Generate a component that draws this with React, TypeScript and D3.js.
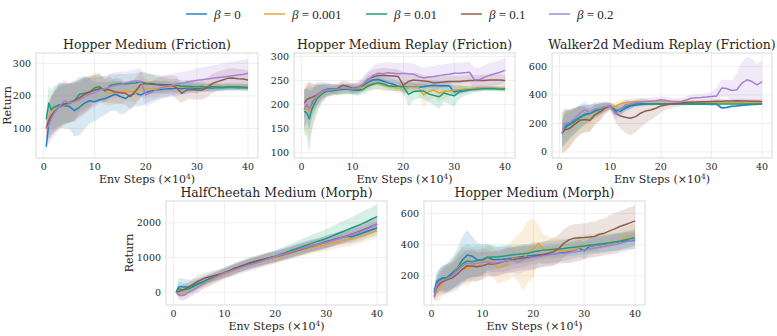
import * as d3 from "d3";

// env steps (x 10^4)
const steps = [0.5, 1, 1.5, 2, 3, 4, 5, 6, 7, 8, 9, 10, 11, 12, 13, 14, 15, 16, 17, 18, 19, 20, 21, 22, 23, 24, 25, 26, 27, 28, 29, 30, 31, 32, 33, 34, 35, 36, 37, 38, 39, 40];

const betaLabels = ["0", "0.001", "0.01", "0.1", "0.2"];
const seriesColors = ["#1f7fc0", "#e3a232", "#1a9e77", "#8f5b4e", "#a77fd8"];

const xTicks = [0, 10, 20, 30, 40];

// Hopper Medium (Friction)
const hopperFrictionMean = [
  [44, 115, 136, 150, 172, 170, 168, 155, 165, 178, 185, 182, 188, 192, 198, 205, 198, 192, 203, 208, 203, 210, 215, 218, 220, 222, 222, 224, 222, 224, 225, 222, 224, 225, 224, 226, 225, 226, 226, 225, 226, 225],
  [100, 130, 145, 155, 168, 172, 178, 180, 190, 200, 210, 228, 225, 212, 208, 210, 212, 214, 215, 208, 226, 222, 220, 222, 225, 226, 228, 227, 228, 228, 228, 227, 228, 229, 228, 229, 228, 229, 228, 229, 228, 228],
  [128, 178, 157, 165, 172, 175, 177, 185, 205, 208, 212, 225, 228, 215, 232, 236, 238, 237, 239, 240, 244, 238, 236, 235, 233, 234, 232, 232, 230, 230, 229, 228, 230, 226, 228, 228, 227, 228, 228, 228, 227, 226],
  [100, 125, 140, 150, 165, 175, 180, 185, 195, 205, 212, 218, 222, 220, 218, 212, 210, 208, 198, 215, 235, 238, 238, 236, 235, 234, 234, 225, 208, 218, 220, 218, 218, 226, 238, 244, 249, 254, 255, 253, 252, 249],
  [100, 108, 130, 145, 165, 185, 178, 182, 188, 198, 205, 210, 218, 222, 228, 232, 235, 240, 244, 246, 245, 203, 210, 218, 225, 229, 232, 236, 239, 242, 245, 248, 250, 252, 254, 256, 258, 260, 262, 264, 266, 270],
];
const hopperFrictionSpread = [
  [20, 50, 60, 65, 70, 70, 70, 80, 85, 80, 70, 60, 55, 50, 45, 50, 55, 45, 40, 40, 35, 35, 30, 30, 25, 25, 20, 20, 18, 18, 15, 15, 12, 12, 12, 10, 10, 10, 10, 10, 10, 10],
  [20, 50, 55, 60, 60, 60, 60, 60, 55, 55, 50, 45, 45, 40, 40, 35, 35, 30, 30, 30, 30, 30, 25, 25, 20, 20, 18, 18, 15, 15, 14, 12, 12, 12, 10, 10, 10, 10, 10, 10, 10, 10],
  [20, 55, 60, 65, 65, 60, 60, 60, 55, 50, 45, 40, 40, 35, 35, 30, 30, 30, 30, 30, 30, 35, 30, 25, 25, 22, 20, 20, 18, 18, 15, 15, 14, 12, 12, 12, 10, 10, 10, 10, 10, 10],
  [25, 55, 60, 60, 65, 65, 60, 60, 55, 55, 50, 45, 40, 40, 40, 35, 35, 35, 40, 40, 40, 30, 30, 30, 28, 28, 30, 35, 30, 30, 30, 30, 30, 30, 30, 30, 30, 30, 30, 30, 30, 30],
  [25, 60, 65, 70, 70, 65, 60, 60, 55, 55, 50, 45, 40, 40, 40, 40, 40, 35, 35, 35, 40, 35, 35, 35, 35, 35, 35, 35, 35, 35, 35, 38, 38, 38, 40, 40, 42, 42, 44, 45, 45, 45],
];

// Hopper Medium Replay (Friction)
const hopperReplayMean = [
  [189, 200, 188, 200, 218, 228, 232, 232, 231, 232, 233, 233, 230, 238, 246, 251, 252, 249, 245, 242, 238, 237, 236, 236, 236, 237, 239, 240, 239, 239, 239, 226, 229, 231, 232, 233, 234, 234, 234, 234, 233, 233],
  [190, 195, 185, 195, 215, 225, 229, 230, 230, 231, 232, 232, 233, 236, 241, 244, 243, 240, 238, 236, 234, 235, 235, 235, 235, 220, 227, 230, 224, 227, 228, 230, 231, 232, 233, 234, 235, 234, 234, 234, 234, 234],
  [186, 183, 170, 190, 212, 222, 228, 228, 230, 231, 232, 230, 229, 231, 238, 242, 245, 243, 239, 238, 238, 237, 221, 227, 228, 228, 222, 219, 216, 224, 221, 218, 226, 228, 230, 231, 232, 233, 233, 233, 232, 232],
  [203, 210, 213, 215, 220, 228, 230, 232, 233, 240, 238, 234, 236, 240, 252, 257, 260, 261, 260, 259, 258, 240, 248, 251, 250, 249, 248, 245, 246, 247, 248, 248, 248, 249, 250, 250, 250, 250, 251, 251, 251, 250],
  [192, 199, 190, 205, 220, 228, 230, 231, 232, 234, 234, 233, 235, 242, 251, 260, 265, 264, 266, 265, 264, 265, 264, 263, 258, 255, 257, 258, 260, 262, 263, 265, 265, 266, 267, 251, 252, 257, 261, 264, 267, 271],
];
const hopperReplaySpread = [
  [40, 35, 40, 30, 20, 15, 12, 10, 10, 10, 10, 10, 10, 10, 12, 12, 12, 12, 12, 12, 10, 10, 10, 10, 10, 10, 10, 10, 10, 10, 12, 10, 8, 8, 6, 5, 5, 5, 5, 5, 5, 5],
  [45, 50, 60, 45, 30, 18, 12, 10, 10, 10, 10, 10, 10, 10, 12, 12, 12, 12, 10, 10, 10, 10, 10, 10, 10, 25, 18, 15, 18, 15, 12, 10, 8, 6, 5, 5, 5, 5, 5, 5, 5, 5],
  [45, 50, 70, 45, 30, 18, 12, 10, 10, 10, 10, 10, 10, 10, 12, 12, 12, 12, 10, 10, 10, 10, 25, 18, 15, 15, 18, 20, 25, 18, 20, 22, 15, 10, 8, 6, 5, 5, 5, 5, 5, 5],
  [30, 30, 35, 30, 20, 15, 12, 10, 10, 10, 10, 10, 10, 12, 14, 15, 15, 15, 15, 15, 15, 25, 15, 15, 15, 12, 12, 12, 12, 12, 12, 12, 12, 12, 12, 12, 12, 12, 12, 12, 12, 12],
  [40, 35, 40, 30, 25, 20, 15, 12, 10, 10, 10, 10, 12, 15, 18, 20, 20, 22, 22, 22, 22, 22, 22, 22, 22, 22, 22, 22, 22, 22, 22, 22, 22, 22, 22, 25, 25, 25, 25, 25, 25, 25],
];

// Walker2d Medium Replay (Friction)
const walkerReplayMean = [
  [130, 175, 190, 200, 220, 245, 265, 272, 290, 300, 315, 322, 295, 284, 307, 322, 330, 333, 335, 336, 337, 337, 338, 338, 338, 338, 337, 337, 337, 337, 336, 336, 336, 310, 312, 320, 323, 327, 330, 333, 335, 337],
  [130, 150, 155, 165, 200, 222, 228, 225, 262, 282, 305, 320, 319, 337, 347, 350, 354, 354, 354, 354, 354, 354, 354, 354, 352, 350, 350, 350, 349, 349, 348, 348, 348, 348, 347, 347, 347, 347, 347, 347, 347, 347],
  [130, 160, 180, 190, 215, 240, 260, 270, 285, 300, 315, 320, 282, 300, 318, 328, 337, 338, 338, 338, 338, 337, 337, 337, 337, 337, 336, 336, 336, 336, 336, 336, 336, 336, 336, 336, 336, 336, 337, 337, 337, 337],
  [136, 155, 160, 166, 195, 222, 228, 222, 262, 282, 308, 323, 272, 253, 244, 237, 248, 272, 288, 295, 307, 323, 330, 337, 340, 343, 347, 349, 350, 352, 353, 354, 355, 356, 357, 358, 359, 358, 357, 356, 355, 354],
  [136, 202, 204, 206, 237, 272, 295, 277, 302, 307, 319, 323, 268, 295, 330, 337, 347, 350, 354, 356, 360, 366, 362, 354, 352, 354, 365, 377, 380, 382, 385, 389, 392, 448, 445, 431, 436, 483, 506, 494, 471, 494],
];
const walkerReplaySpread = [
  [100, 110, 110, 100, 90, 80, 70, 60, 50, 40, 30, 20, 30, 30, 25, 20, 15, 12, 10, 10, 10, 10, 8, 8, 8, 8, 8, 8, 8, 8, 8, 15, 15, 12, 10, 8, 8, 8, 8, 8, 8, 8],
  [140, 150, 140, 130, 110, 100, 90, 80, 70, 60, 40, 25, 30, 25, 20, 15, 12, 12, 10, 10, 10, 10, 10, 10, 10, 10, 10, 10, 10, 10, 10, 10, 10, 10, 10, 10, 10, 10, 10, 10, 10, 10],
  [100, 110, 110, 100, 90, 80, 70, 60, 50, 40, 30, 20, 30, 28, 25, 20, 15, 12, 10, 10, 10, 10, 8, 8, 8, 8, 8, 8, 8, 8, 8, 8, 8, 8, 8, 8, 8, 8, 8, 8, 8, 8],
  [140, 150, 140, 130, 110, 100, 90, 80, 70, 60, 40, 25, 60, 90, 110, 120, 110, 100, 85, 70, 60, 45, 35, 30, 25, 20, 15, 15, 15, 15, 15, 15, 15, 15, 15, 15, 15, 15, 15, 15, 15, 15],
  [60, 70, 70, 70, 70, 65, 60, 55, 50, 45, 35, 30, 40, 45, 40, 35, 30, 30, 25, 25, 25, 25, 25, 25, 25, 25, 25, 25, 25, 25, 25, 30, 60, 60, 60, 70, 120, 150, 160, 160, 150, 150],
];

// HalfCheetah Medium (Morph)
const cheetahMorphMean = [
  [0, 150, 160, 150, 160, 200, 260, 320, 380, 430, 490, 550, 600, 660, 720, 770, 820, 860, 900, 950, 990, 1030, 1080, 1130, 1170, 1220, 1260, 1300, 1340, 1370, 1410, 1460, 1500, 1540, 1580, 1610, 1600, 1650, 1700, 1750, 1800, 1850],
  [0, -60, -80, -70, 0, 80, 160, 240, 310, 380, 450, 520, 580, 640, 700, 750, 800, 840, 880, 920, 950, 990, 1030, 1080, 1120, 1170, 1210, 1250, 1280, 1310, 1340, 1370, 1410, 1440, 1480, 1510, 1540, 1580, 1620, 1670, 1720, 1770],
  [0, 100, 80, 60, 100, 170, 240, 310, 380, 440, 500, 560, 620, 680, 730, 780, 830, 870, 920, 960, 1000, 1040, 1090, 1140, 1200, 1250, 1300, 1350, 1400, 1450, 1500, 1550, 1610, 1670, 1730, 1790, 1850, 1910, 1970, 2040, 2110, 2180],
  [0, 20, 40, 80, 150, 250, 330, 400, 440, 480, 520, 560, 620, 690, 740, 790, 850, 890, 930, 960, 990, 1020, 1060, 1100, 1140, 1190, 1230, 1270, 1320, 1360, 1400, 1440, 1480, 1530, 1580, 1620, 1670, 1720, 1780, 1840, 1900, 1960],
  [0, -80, -100, -90, 0, 80, 170, 260, 340, 410, 480, 550, 600, 650, 700, 750, 790, 830, 880, 930, 980, 1020, 1070, 1110, 1160, 1200, 1250, 1290, 1330, 1370, 1400, 1440, 1480, 1520, 1570, 1610, 1660, 1710, 1760, 1820, 1890, 1970],
];
const cheetahMorphSpread = [
  [20, 250, 250, 230, 200, 170, 150, 140, 130, 130, 130, 130, 140, 140, 140, 150, 150, 150, 150, 150, 150, 150, 150, 150, 150, 160, 160, 160, 170, 170, 170, 180, 180, 180, 190, 190, 190, 200, 200, 200, 200, 200],
  [20, 120, 130, 130, 130, 130, 130, 130, 130, 130, 130, 140, 140, 140, 150, 150, 150, 150, 160, 160, 160, 160, 160, 170, 170, 170, 170, 180, 180, 180, 180, 180, 190, 190, 190, 190, 200, 200, 200, 200, 200, 200],
  [20, 200, 200, 180, 160, 150, 140, 130, 130, 130, 130, 130, 140, 140, 140, 150, 150, 150, 150, 160, 160, 170, 180, 190, 200, 210, 220, 230, 240, 250, 260, 270, 280, 290, 300, 310, 320, 330, 340, 350, 350, 350],
  [20, 150, 150, 150, 150, 150, 150, 150, 150, 150, 150, 150, 150, 150, 160, 160, 160, 160, 160, 160, 160, 160, 160, 160, 170, 170, 170, 170, 170, 170, 170, 170, 180, 180, 180, 180, 180, 180, 190, 190, 190, 190],
  [20, 150, 160, 160, 160, 160, 160, 170, 170, 170, 170, 170, 180, 180, 180, 180, 180, 180, 180, 180, 180, 180, 180, 180, 180, 180, 180, 180, 180, 180, 190, 190, 190, 190, 200, 200, 200, 200, 200, 200, 200, 200],
];

// Hopper Medium (Morph)
const hopperMorphMean = [
  [100, 164, 175, 185, 189, 217, 249, 300, 334, 325, 302, 303, 320, 303, 305, 306, 310, 315, 320, 324, 328, 332, 334, 336, 337, 339, 345, 350, 356, 365, 378, 360, 388, 395, 399, 404, 410, 415, 420, 423, 425, 427],
  [78, 95, 110, 142, 185, 202, 249, 281, 238, 271, 260, 281, 303, 292, 249, 260, 281, 313, 313, 303, 356, 375, 407, 369, 365, 362, 360, 360, 362, 368, 380, 390, 393, 397, 402, 407, 410, 415, 429, 446, 455, 467],
  [89, 150, 170, 180, 185, 205, 240, 275, 295, 290, 298, 300, 318, 320, 322, 325, 330, 335, 338, 342, 345, 355, 360, 365, 367, 370, 373, 376, 380, 384, 388, 392, 396, 400, 404, 408, 412, 417, 422, 430, 438, 446],
  [67, 120, 145, 160, 175, 185, 210, 240, 265, 262, 258, 265, 275, 275, 280, 290, 298, 305, 310, 315, 318, 322, 330, 338, 345, 355, 375, 410, 431, 442, 444, 446, 449, 453, 467, 474, 489, 502, 517, 528, 540, 553],
  [61, 140, 160, 170, 180, 200, 230, 262, 280, 275, 280, 285, 290, 280, 285, 292, 300, 298, 288, 305, 312, 318, 323, 328, 334, 340, 343, 345, 348, 352, 358, 365, 372, 378, 384, 390, 395, 400, 408, 415, 428, 432],
];
const hopperMorphSpread = [
  [30, 60, 70, 80, 90, 100, 120, 150, 160, 130, 110, 100, 90, 80, 80, 80, 80, 70, 70, 70, 60, 60, 55, 55, 55, 55, 55, 55, 55, 55, 55, 55, 55, 55, 55, 55, 55, 55, 55, 55, 55, 55],
  [30, 60, 70, 80, 90, 90, 100, 110, 110, 100, 100, 90, 90, 100, 100, 100, 110, 120, 150, 200, 200, 190, 120, 100, 90, 80, 80, 80, 80, 80, 80, 75, 75, 75, 75, 70, 70, 70, 70, 70, 70, 70],
  [30, 60, 70, 80, 90, 90, 100, 110, 110, 100, 100, 90, 80, 80, 70, 70, 70, 60, 60, 60, 60, 60, 55, 55, 55, 55, 55, 55, 55, 55, 55, 55, 55, 55, 55, 55, 55, 55, 55, 55, 55, 55],
  [30, 60, 70, 80, 90, 90, 100, 100, 100, 100, 90, 90, 80, 80, 80, 80, 80, 80, 80, 80, 80, 80, 80, 80, 85, 90, 90, 90, 90, 90, 90, 90, 95, 95, 95, 95, 100, 100, 100, 100, 100, 100],
  [30, 60, 70, 80, 90, 90, 100, 100, 100, 100, 90, 90, 80, 80, 80, 80, 80, 80, 80, 80, 80, 80, 70, 70, 70, 70, 65, 65, 65, 65, 65, 60, 60, 60, 60, 60, 60, 60, 60, 60, 60, 60],
];

const FONT = "DejaVu Serif, serif";
const INK = "#262626";

const panels = [
  { title: "Hopper Medium (Friction)", mean: hopperFrictionMean, spread: hopperFrictionSpread, yDomain: [9, 332], yTicks: [100, 200, 300], left: 36, top: 53, w: 222, h: 105, yLabelX: 7 },
  { title: "Hopper Medium Replay (Friction)", mean: hopperReplayMean, spread: hopperReplaySpread, yDomain: [89, 307], yTicks: [100, 150, 200, 250, 300], left: 294, top: 53, w: 221, h: 105, yLabelX: null },
  { title: "Walker2d Medium Replay (Friction)", mean: walkerReplayMean, spread: walkerReplaySpread, yDomain: [-42, 694], yTicks: [0, 200, 400, 600], left: 552, top: 53, w: 220, h: 105, yLabelX: null },
  { title: "HalfCheetah Medium (Morph)", mean: cheetahMorphMean, spread: cheetahMorphSpread, yDomain: [-370, 2630], yTicks: [0, 1000, 2000], left: 166, top: 201, w: 221, h: 104, yLabelX: 129 },
  { title: "Hopper Medium (Morph)", mean: hopperMorphMean, spread: hopperMorphSpread, yDomain: [12, 681], yTicks: [200, 400, 600], left: 424, top: 201, w: 221, h: 104, yLabelX: null },
];

function Panel({ p, idx }: { p: any; idx: number }) {
  const x = d3.scaleLinear().domain([-1.5, 41.95]).range([p.left, p.left + p.w]);
  const y = d3.scaleLinear().domain(p.yDomain).range([p.top + p.h, p.top]);
  const clipId = `clip-${idx}`;
  const bottom = p.top + p.h;

  return (
    <g>
      <defs>
        <clipPath id={clipId}>
          <rect x={p.left} y={p.top} width={p.w} height={p.h} />
        </clipPath>
      </defs>
      {/* grid */}
      {xTicks.map((t) => (
        <line key={"gx" + t} x1={x(t)} x2={x(t)} y1={p.top} y2={bottom} stroke="#ebebeb" strokeWidth={0.8} />
      ))}
      {p.yTicks.map((t: number) => (
        <line key={"gy" + t} x1={p.left} x2={p.left + p.w} y1={y(t)} y2={y(t)} stroke="#ebebeb" strokeWidth={0.8} />
      ))}
      {/* bands then lines */}
      <g clipPath={`url(#${clipId})`}>
        {p.mean.map((vals: number[], s: number) => {
          const sp = p.spread[s];
          const area = d3
            .area<number>()
            .x((_, i) => x(steps[i]))
            .y0((d, i) => y(d - sp[i]))
            .y1((d, i) => y(d + sp[i]));
          return <path key={"a" + s} d={area(vals) || ""} fill={seriesColors[s]} fillOpacity={0.17} stroke="none" />;
        })}
        {p.mean.map((vals: number[], s: number) => {
          const line = d3
            .line<number>()
            .x((_, i) => x(steps[i]))
            .y((d) => y(d));
          return <path key={"l" + s} d={line(vals) || ""} fill="none" stroke={seriesColors[s]} strokeWidth={1.5} strokeLinejoin="round" />;
        })}
      </g>
      <rect x={p.left} y={p.top} width={p.w} height={p.h} fill="none" stroke="#d9d9d9" strokeWidth={1} />
      {/* tick labels */}
      {xTicks.map((t) => (
        <text key={"tx" + t} x={x(t)} y={bottom + 12} textAnchor="middle" fontSize={9.5} fill={INK} fontFamily={FONT}>
          {t}
        </text>
      ))}
      {p.yTicks.map((t: number) => (
        <text key={"ty" + t} x={p.left - 5} y={y(t) + 3.4} textAnchor="end" fontSize={9.5} fill={INK} fontFamily={FONT}>
          {t}
        </text>
      ))}
      <text x={p.left + p.w / 2} y={p.top - 4} textAnchor="middle" fontSize={12.5} fill={INK} fontFamily={FONT}>
        {p.title}
      </text>
      <text x={p.left + p.w / 2} y={bottom + 25} textAnchor="middle" fontSize={11} fill={INK} fontFamily={FONT}>
        Env Steps (×10<tspan dy={-4} fontSize={7.5}>4</tspan>
        <tspan dy={4}>)</tspan>
      </text>
      {p.yLabelX !== null && (
        <text
          transform={`translate(${p.yLabelX},${p.top + p.h / 2}) rotate(-90)`}
          textAnchor="middle"
          dominantBaseline="central"
          fontSize={11}
          fill={INK}
          fontFamily={FONT}
        >
          Return
        </text>
      )}
    </g>
  );
}

function Legend() {
  const itemX = [186, 264, 366, 461, 549];
  const ly = 14;
  return (
    <g>
      {betaLabels.map((b, i) => (
        <g key={b}>
          <line x1={itemX[i]} x2={itemX[i] + 21} y1={ly} y2={ly} stroke={seriesColors[i]} strokeWidth={1.8} strokeOpacity={0.8} />
          <text x={itemX[i] + 28} y={ly + 4.5} fontSize={13} fill={INK} fontFamily="Liberation Serif, serif">
            <tspan fontStyle="italic">β</tspan> = {b}
          </text>
        </g>
      ))}
    </g>
  );
}

export default function App() {
  return (
    <svg width={777} height={336} style={{ position: "absolute", left: 0, top: 0, background: "#fff" }}>
      <rect width={777} height={336} fill="#fff" />
      <Legend />
      {panels.map((p, i) => (
        <Panel key={p.title} p={p} idx={i} />
      ))}
    </svg>
  );
}
